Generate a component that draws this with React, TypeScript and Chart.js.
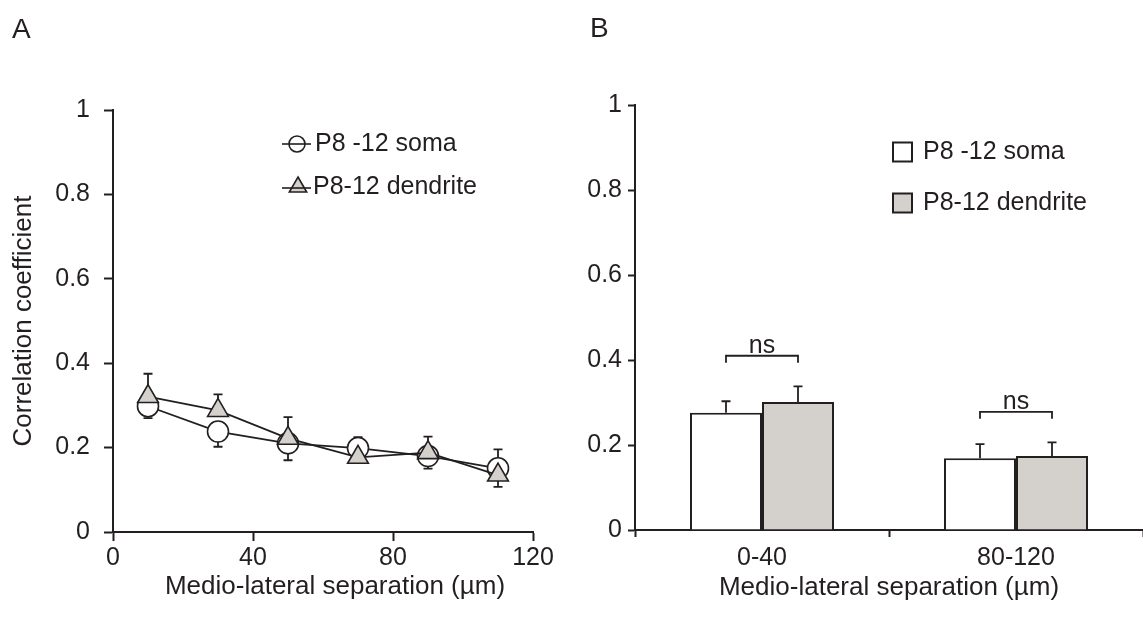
import React, { useEffect, useRef } from "react";
import { Chart, registerables } from "chart.js";

Chart.register(...registerables);

const INK = "#231f20";
const GREY = "#d4d0cb";
const FONT = "'Liberation Sans', Arial, Helvetica, sans-serif";

// ---------- Panel A data ----------
const separations = [10, 30, 50, 70, 90, 110];
const somaMeans = [0.298, 0.238, 0.21, 0.199, 0.18, 0.151];
// signed error: sign gives the direction in which the bar is drawn
const somaErr = [-0.028, -0.036, -0.04, 0.026, -0.03, 0.045];
const dendriteMeans = [0.321, 0.288, 0.222, 0.177, 0.188, 0.135];
const dendriteErr = [0.054, 0.038, 0.05, -0.012, 0.038, -0.028];
const xTicksA = [0, 40, 80, 120];
const yTicks = [0, 0.2, 0.4, 0.6, 0.8, 1];
const seriesNames = ["P8 -12 soma", "P8-12 dendrite"];

// ---------- Panel B data ----------
const binLabels = ["0-40", "80-120"];
const somaBar = [0.276, 0.169];
const somaBarErr = [0.027, 0.033];
const dendriteBar = [0.301, 0.174];
const dendriteBarErr = [0.037, 0.032];
const sigLabels = ["ns", "ns"];
const sigLevels = [0.41, 0.278];

const xTitle = "Medio-lateral separation (µm)";
const yTitle = "Correlation coefficient";
const panelLabels = ["A", "B"];

Chart.defaults.font.family = FONT;
Chart.defaults.color = INK;

const TICK_SIZE = 25;
const TITLE_SIZE = 26;
const LW = 1.8;

export default function App() {
  const refA = useRef<HTMLCanvasElement>(null);
  const refB = useRef<HTMLCanvasElement>(null);

  useEffect(() => {
    if (!refA.current || !refB.current) return;

    const errA = {
      id: "errA",
      beforeDatasetsDraw(chart: any) {
        const { ctx, scales } = chart;
        const x = scales.x;
        const y = scales.y;
        ctx.save();
        ctx.strokeStyle = INK;
        ctx.lineWidth = LW;
        const draw = (means: number[], errs: number[]) => {
          means.forEach((m, i) => {
            const px = x.getPixelForValue(separations[i]);
            const p0 = y.getPixelForValue(m);
            const p1 = y.getPixelForValue(m + errs[i]);
            ctx.beginPath();
            ctx.moveTo(px, p0);
            ctx.lineTo(px, p1);
            ctx.moveTo(px - 4.5, p1);
            ctx.lineTo(px + 4.5, p1);
            ctx.stroke();
          });
        };
        draw(somaMeans, somaErr);
        draw(dendriteMeans, dendriteErr);
        ctx.restore();
      },
    };

    const decorA = {
      id: "decorA",
      afterDraw(chart: any) {
        const { ctx, chartArea } = chart;
        ctx.save();
        ctx.fillStyle = INK;
        ctx.strokeStyle = INK;
        // panel letter
        ctx.font = `28px ${FONT}`;
        ctx.textBaseline = "alphabetic";
        ctx.textAlign = "left";
        ctx.fillText(panelLabels[0], 12, 38);
        // x title
        ctx.font = `${TITLE_SIZE}px ${FONT}`;
        ctx.textAlign = "center";
        ctx.textBaseline = "middle";
        ctx.fillText(xTitle, (chartArea.left + chartArea.right) / 2 + 12, 587);
        // legend
        ctx.font = `25px ${FONT}`;
        ctx.textAlign = "left";
        ctx.lineWidth = 1.6;
        // soma row
        let cy = 144;
        ctx.beginPath();
        ctx.arc(297, cy, 8, 0, Math.PI * 2);
        ctx.fillStyle = "#ffffff";
        ctx.fill();
        ctx.stroke();
        ctx.beginPath();
        ctx.moveTo(282, cy);
        ctx.lineTo(311, cy);
        ctx.stroke();
        ctx.fillStyle = INK;
        ctx.fillText(seriesNames[0], 315, cy);
        // dendrite row
        cy = 187;
        const r = 10;
        ctx.beginPath();
        ctx.moveTo(298, cy - r);
        ctx.lineTo(298 + r * 0.866, cy + r * 0.5);
        ctx.lineTo(298 - r * 0.866, cy + r * 0.5);
        ctx.closePath();
        ctx.fillStyle = GREY;
        ctx.fill();
        ctx.stroke();
        ctx.beginPath();
        ctx.moveTo(282, cy + 1);
        ctx.lineTo(311, cy + 1);
        ctx.stroke();
        ctx.fillStyle = INK;
        ctx.fillText(seriesNames[1], 313, cy);
        ctx.restore();
      },
    };

    const chartA = new Chart(refA.current, {
      type: "line",
      data: {
        datasets: [
          {
            label: seriesNames[1],
            data: separations.map((x, i) => ({ x, y: dendriteMeans[i] })),
            pointStyle: "triangle",
            pointRadius: 12,
            pointBackgroundColor: GREY,
            pointBorderColor: INK,
            pointBorderWidth: 1.6,
            borderColor: INK,
            borderWidth: LW,
            tension: 0,
            order: 0,
          },
          {
            label: seriesNames[0],
            data: separations.map((x, i) => ({ x, y: somaMeans[i] })),
            pointStyle: "circle",
            pointRadius: 10.5,
            pointBackgroundColor: "#ffffff",
            pointBorderColor: INK,
            pointBorderWidth: 1.6,
            borderColor: INK,
            borderWidth: LW,
            tension: 0,
            order: 1,
          },
        ],
      },
      options: {
        animation: false,
        responsive: false,
        events: [],
        layout: { padding: { top: 110, right: 47, bottom: 0, left: 0 } },
        plugins: { legend: { display: false }, tooltip: { enabled: false } },
        scales: {
          x: {
            type: "linear",
            min: 0,
            max: 120,
            afterBuildTicks: (s: any) => {
              s.ticks = xTicksA.map((v) => ({ value: v }));
            },
            afterFit: (s: any) => {
              s.height = 87;
            },
            grid: { drawOnChartArea: false, drawTicks: true, tickLength: 9, tickColor: INK, tickWidth: 2 },
            border: { color: INK, width: 2 },
            ticks: { padding: 2, color: INK, font: { size: TICK_SIZE, family: FONT }, callback: (v: any) => String(v) },
          },
          y: {
            type: "linear",
            min: 0,
            max: 1,
            afterBuildTicks: (s: any) => {
              s.ticks = yTicks.map((v) => ({ value: v }));
            },
            afterFit: (s: any) => {
              s.width = 113;
            },
            grid: { drawOnChartArea: false, drawTicks: true, tickLength: 9, tickColor: INK, tickWidth: 2 },
            border: { color: INK, width: 2 },
            ticks: { padding: 14, color: INK, font: { size: TICK_SIZE, family: FONT }, callback: (v: any) => String(v) },
            title: {
              display: true,
              text: yTitle,
              color: INK,
              font: { size: TITLE_SIZE, family: FONT },
              padding: { top: 8, bottom: 0 },
            },
          },
        },
      },
      plugins: [errA, decorA],
    } as any);

    const decorB = {
      id: "decorB",
      afterDatasetsDraw(chart: any) {
        const { ctx, scales } = chart;
        const y = scales.y;
        const m0 = chart.getDatasetMeta(0);
        const m1 = chart.getDatasetMeta(1);
        ctx.save();
        ctx.strokeStyle = INK;
        ctx.fillStyle = INK;
        ctx.lineWidth = LW;
        // error bars
        const errs = [somaBarErr, dendriteBarErr];
        const vals = [somaBar, dendriteBar];
        [m0, m1].forEach((meta: any, d: number) => {
          meta.data.forEach((bar: any, i: number) => {
            const p1 = y.getPixelForValue(vals[d][i] + errs[d][i]);
            ctx.beginPath();
            ctx.moveTo(bar.x, bar.y);
            ctx.lineTo(bar.x, p1);
            ctx.moveTo(bar.x - 4.5, p1);
            ctx.lineTo(bar.x + 4.5, p1);
            ctx.stroke();
          });
        });
        // significance brackets
        ctx.font = `25px ${FONT}`;
        ctx.textAlign = "center";
        ctx.textBaseline = "alphabetic";
        sigLevels.forEach((lv, i) => {
          const xs = m0.data[i].x;
          const xe = m1.data[i].x;
          const yb = y.getPixelForValue(lv);
          ctx.beginPath();
          ctx.moveTo(xs, yb + 7);
          ctx.lineTo(xs, yb);
          ctx.lineTo(xe, yb);
          ctx.lineTo(xe, yb + 7);
          ctx.stroke();
          ctx.fillText(sigLabels[i], (xs + xe) / 2, yb - 3);
        });
        ctx.restore();
      },
      afterDraw(chart: any) {
        const { ctx } = chart;
        ctx.save();
        ctx.fillStyle = INK;
        ctx.strokeStyle = INK;
        ctx.font = `28px ${FONT}`;
        ctx.textAlign = "left";
        ctx.textBaseline = "alphabetic";
        ctx.fillText(panelLabels[1], 10, 37);
        // legend
        ctx.font = `25px ${FONT}`;
        ctx.textBaseline = "middle";
        ctx.lineWidth = 2;
        const fills = ["#ffffff", GREY];
        [152, 203].forEach((cy, i) => {
          ctx.fillStyle = fills[i];
          ctx.fillRect(313, cy - 9.5, 19, 19);
          ctx.strokeRect(313, cy - 9.5, 19, 19);
          ctx.fillStyle = INK;
          ctx.fillText(seriesNames[i], 343, cy);
        });
        ctx.restore();
      },
    };

    const chartB = new Chart(refB.current, {
      type: "bar",
      data: {
        labels: binLabels,
        datasets: [
          {
            label: seriesNames[0],
            data: somaBar,
            backgroundColor: "#ffffff",
            borderColor: INK,
            borderWidth: 2,
            barPercentage: 1,
            categoryPercentage: 0.567,
          },
          {
            label: seriesNames[1],
            data: dendriteBar,
            backgroundColor: GREY,
            borderColor: INK,
            borderWidth: 2,
            barPercentage: 1,
            categoryPercentage: 0.567,
          },
        ],
      },
      options: {
        animation: false,
        responsive: false,
        events: [],
        layout: { padding: { top: 105, right: 0, bottom: 0, left: 0 } },
        plugins: { legend: { display: false }, tooltip: { enabled: false } },
        scales: {
          x: {
            afterFit: (s: any) => {
              s.height = 89;
            },
            grid: { drawOnChartArea: false, drawTicks: true, tickLength: 7, tickColor: INK, tickWidth: 2 },
            border: { color: INK, width: 2 },
            ticks: { padding: 6, color: INK, font: { size: TICK_SIZE, family: FONT } },
            title: {
              display: true,
              text: xTitle,
              color: INK,
              font: { size: TITLE_SIZE, family: FONT },
              padding: { top: 0, bottom: 16 },
            },
          },
          y: {
            type: "linear",
            min: 0,
            max: 1,
            afterBuildTicks: (s: any) => {
              s.ticks = yTicks.map((v) => ({ value: v }));
            },
            afterFit: (s: any) => {
              s.width = 55;
            },
            grid: { drawOnChartArea: false, drawTicks: true, tickLength: 7, tickColor: INK, tickWidth: 2 },
            border: { color: INK, width: 2 },
            ticks: { padding: 6, color: INK, font: { size: TICK_SIZE, family: FONT }, callback: (v: any) => String(v) },
          },
        },
      },
      plugins: [decorB],
    } as any);

    return () => {
      chartA.destroy();
      chartB.destroy();
    };
  }, []);

  return (
    <div style={{ position: "absolute", left: 0, top: 0, width: 1143, height: 619, background: "#ffffff" }}>
      <canvas
        ref={refA}
        width={580}
        height={619}
        style={{ position: "absolute", left: 0, top: 0, width: 580, height: 619 }}
      />
      <canvas
        ref={refB}
        width={563}
        height={619}
        style={{ position: "absolute", left: 580, top: 0, width: 563, height: 619 }}
      />
    </div>
  );
}
